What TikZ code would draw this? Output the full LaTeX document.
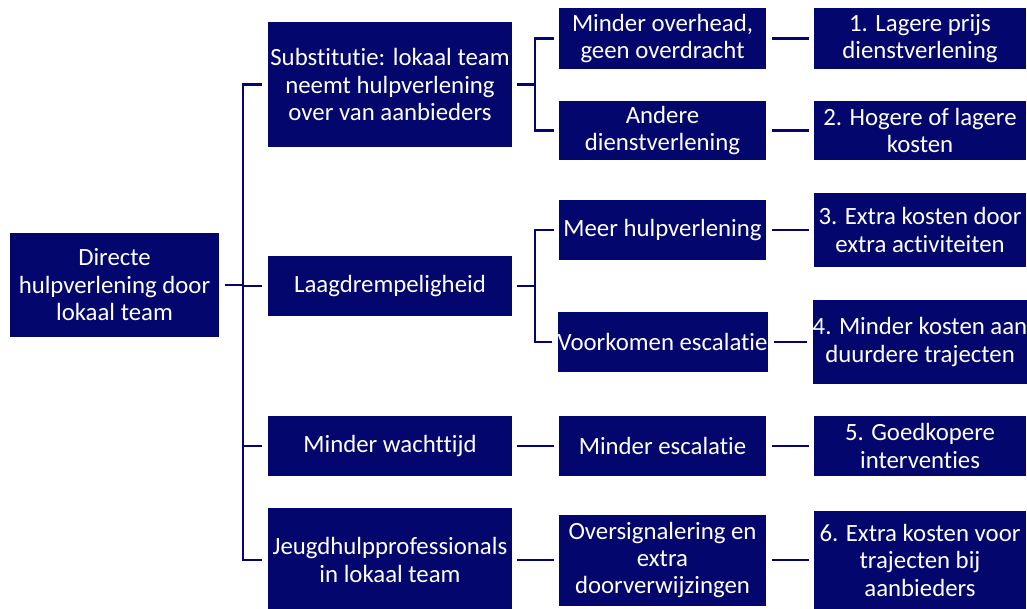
\documentclass[tikz,border=0pt]{standalone}
\usepackage{fontspec}
\setmainfont{Carlito}[Ligatures=NoCommon]
\definecolor{navy}{RGB}{3,6,108}
\tikzset{
  box/.style={fill=navy, text=white, inner sep=0pt, align=center,
    font=\fontsize{18.6}{20.6}\selectfont},
  conn/.style={draw=navy, line width=1.9pt},
}
\begin{document}
\begin{tikzpicture}[x=0.75pt,y=-0.75pt]
\useasboundingbox (0,0) rectangle (1027,608);
% root
\node[box, minimum width=209*0.75pt, minimum height=104*0.75pt] (root) at (114.5,285) {Directe\\hulpverlening door\\lokaal team};
% level 2
\node[box, minimum width=244*0.75pt, minimum height=125*0.75pt] (sub) at (390,84.5) {Substitutie: lokaal team\\neemt hulpverlening\\over van aanbieders};
\node[box, minimum width=244*0.75pt, minimum height=60*0.75pt] (laag) at (390,286) {Laagdrempeligheid};
\node[box, minimum width=244*0.75pt, minimum height=60*0.75pt] (wacht) at (390,446) {Minder wachttijd};
\node[box, minimum width=244*0.75pt, minimum height=104*0.75pt] (jeugd) at (390,560) {Jeugdhulpprofessionals\\in lokaal team};
% level 3
\node[box, minimum width=207*0.75pt, minimum height=61*0.75pt] (over) at (662.5,38.5) {Minder overhead,\\geen overdracht};
\node[box, minimum width=207*0.75pt, minimum height=59*0.75pt] (andere) at (662.5,130.5) {Andere\\dienstverlening};
\node[box, minimum width=207*0.75pt, minimum height=60*0.75pt] (meer) at (662.5,230) {Meer hulpverlening};
\node[box, minimum width=207*0.75pt, minimum height=60*0.75pt] (voork) at (662.5,342) {Voorkomen escalatie};
\node[box, minimum width=207*0.75pt, minimum height=60*0.75pt] (esc) at (662.5,446) {Minder escalatie};
\node[box, minimum width=207*0.75pt, minimum height=91*0.75pt] (oversig) at (662.5,560) {Oversignalering en\\extra\\doorverwijzingen};
% level 4
\node[box, minimum width=212*0.75pt, minimum height=61*0.75pt] (r1) at (920,38.5) {1. Lagere prijs\\dienstverlening};
\node[box, minimum width=212*0.75pt, minimum height=59*0.75pt] (r2) at (920,130.5) {2. Hogere of lagere\\kosten};
\node[box, minimum width=212*0.75pt, minimum height=74*0.75pt] (r3) at (920,230) {3. Extra kosten door\\extra activiteiten};
\node[box, minimum width=212*0.75pt, minimum height=84*0.75pt] (r4) at (920,342) {4. Minder kosten aan\\duurdere trajecten};
\node[box, minimum width=212*0.75pt, minimum height=60*0.75pt] (r5) at (920,446) {5. Goedkopere\\interventies};
\node[box, minimum width=212*0.75pt, minimum height=98*0.75pt] (r6) at (920,560) {6. Extra kosten voor\\trajecten bij\\aanbieders};
% trunk coordinates
\coordinate (tA) at (243,0);
\coordinate (tB) at (535,0);
% root fork
\draw[conn] ([xshift=4.5pt]root.east) -- (root.east -| tA);
\draw[conn] ([xshift=-4.5pt]sub.west) -- (sub.west -| tA) -- (jeugd.west -| tA) -- ([xshift=-4.5pt]jeugd.west);
\draw[conn] (laag.west -| tA) -- ([xshift=-4.5pt]laag.west);
\draw[conn] (wacht.west -| tA) -- ([xshift=-4.5pt]wacht.west);
% sub fork
\draw[conn] ([xshift=3.75pt]sub.east) -- (sub.east -| tB);
\draw[conn] ([xshift=-3.75pt]over.west) -- (over.west -| tB) -- (andere.west -| tB) -- ([xshift=-3.75pt]andere.west);
% laag fork
\draw[conn] ([xshift=3.75pt]laag.east) -- (laag.east -| tB);
\draw[conn] ([xshift=-3.75pt]meer.west) -- (meer.west -| tB) -- (voork.west -| tB) -- ([xshift=-3.75pt]voork.west);
% straight links
\draw[conn] ([xshift=3.75pt]wacht.east) -- ([xshift=-3.75pt]esc.west);
\draw[conn] ([xshift=3.75pt]jeugd.east) -- ([xshift=-3.75pt]oversig.west);
\draw[conn] ([xshift=4.5pt]over.east) -- ([xshift=-3.75pt]r1.west);
\draw[conn] ([xshift=4.5pt]andere.east) -- ([xshift=-3.75pt]r2.west);
\draw[conn] ([xshift=4.5pt]meer.east) -- ([xshift=-3.75pt]r3.west);
\draw[conn] ([xshift=4.5pt]voork.east) -- ([xshift=-3.75pt]r4.west);
\draw[conn] ([xshift=4.5pt]esc.east) -- ([xshift=-3.75pt]r5.west);
\draw[conn] ([xshift=4.5pt]oversig.east) -- ([xshift=-3.75pt]r6.west);
\end{tikzpicture}
\end{document}
